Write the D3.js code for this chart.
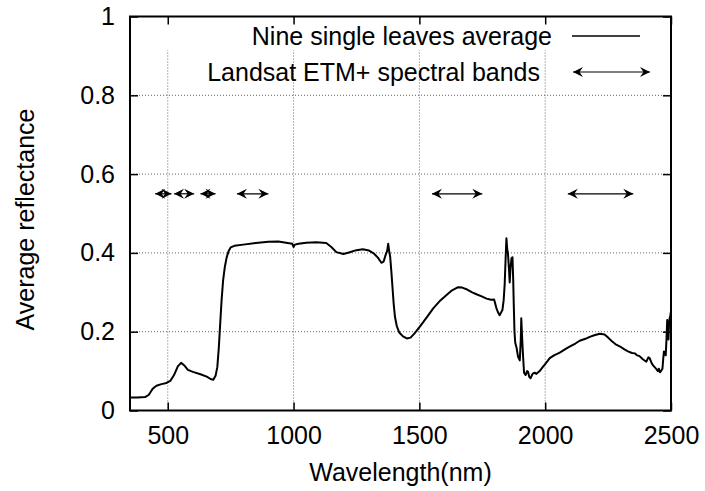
<!DOCTYPE html>
<html lang="en">
<head>
    <script src="https://d3js.org/d3.v7.min.js"></script>
</head>
<style>
    body { margin: 0; background: #fff; }
    text { font-family: "Liberation Sans", Arial, sans-serif; fill: #000; }
    .grid line { stroke: #666; stroke-width: 1; stroke-dasharray: 1,2; }
    .axis path { display: none; }
    .axis line { stroke: #000; stroke-width: 1.5; }
</style>
<body>
<script>
    const w = 705
    const h = 491

    // spectrum of the nine single leaves average (wavelength nm, reflectance)
    const wavelength = [350, 380, 410, 425, 440, 455, 475, 495, 510, 525, 540, 553, 565, 580, 600, 630, 655, 670, 681, 690,
        697, 703, 708, 714, 720, 727, 734, 742, 750, 765, 800, 850, 900, 940, 970, 995, 1000, 1005, 1020, 1050,
        1090, 1130, 1150, 1170, 1198, 1220, 1250, 1275, 1300, 1320, 1335, 1349, 1358, 1366, 1372, 1376, 1380, 1384, 1389, 1393,
        1398, 1403, 1410, 1420, 1435, 1450, 1465, 1480, 1502, 1530, 1555, 1580, 1608, 1630, 1654, 1670, 1690, 1710, 1727, 1750,
        1767, 1785, 1797, 1800, 1806, 1812, 1819, 1825, 1830, 1835, 1839, 1843, 1846, 1849, 1852, 1856, 1859, 1862, 1866, 1870,
        1873, 1875, 1878, 1881, 1886, 1892, 1899, 1903, 1905, 1908, 1911, 1916, 1922, 1928, 1932, 1937, 1942, 1950, 1958, 1965,
        1978, 1990, 2000, 2018, 2035, 2058, 2080, 2097, 2120, 2137, 2160, 2177, 2195, 2217, 2236, 2250, 2263, 2280, 2296, 2315,
        2329, 2345, 2356, 2365, 2375, 2388, 2395, 2402, 2410, 2415, 2422, 2428, 2435, 2442, 2448, 2452, 2456, 2462, 2466, 2469,
        2472, 2476, 2479, 2482, 2485, 2487, 2490, 2492, 2494, 2497, 2500]
    const reflectance = [0.033, 0.033, 0.034, 0.040, 0.055, 0.063, 0.067, 0.070, 0.075, 0.090, 0.112, 0.121, 0.115, 0.103, 0.098, 0.092, 0.086, 0.080, 0.078, 0.088,
        0.110, 0.160, 0.215, 0.280, 0.330, 0.365, 0.388, 0.405, 0.414, 0.418, 0.421, 0.425, 0.428, 0.429, 0.426, 0.423, 0.415, 0.421, 0.423, 0.426,
        0.427, 0.425, 0.415, 0.402, 0.397, 0.401, 0.407, 0.409, 0.406, 0.398, 0.388, 0.375, 0.378, 0.395, 0.405, 0.423, 0.405, 0.390, 0.350, 0.314,
        0.270, 0.238, 0.215, 0.198, 0.188, 0.183, 0.185, 0.195, 0.213, 0.237, 0.259, 0.277, 0.293, 0.305, 0.313, 0.312, 0.307, 0.300, 0.295, 0.289,
        0.284, 0.281, 0.282, 0.275, 0.260, 0.250, 0.242, 0.249, 0.255, 0.280, 0.320, 0.390, 0.437, 0.410, 0.399, 0.360, 0.325, 0.360, 0.386, 0.389,
        0.330, 0.272, 0.200, 0.172, 0.160, 0.137, 0.127, 0.180, 0.234, 0.190, 0.150, 0.096, 0.090, 0.100, 0.098, 0.085, 0.082, 0.093, 0.096, 0.093,
        0.100, 0.110, 0.118, 0.133, 0.140, 0.147, 0.156, 0.162, 0.170, 0.177, 0.182, 0.187, 0.191, 0.195, 0.193, 0.185, 0.177, 0.168, 0.163, 0.155,
        0.150, 0.146, 0.145, 0.140, 0.138, 0.130, 0.127, 0.124, 0.135, 0.133, 0.122, 0.115, 0.110, 0.105, 0.100, 0.106, 0.097, 0.102, 0.106, 0.130,
        0.150, 0.145, 0.140, 0.180, 0.230, 0.190, 0.180, 0.215, 0.232, 0.240, 0.252]

    // Landsat ETM+ bands (nm), drawn as arrows at reflectance 0.55
    const bandStart = [450, 525, 630, 775, 1550, 2090]
    const bandEnd = [515, 605, 690, 900, 1750, 2350]
    const bandLevel = 0.55

    const xTicks = [500, 1000, 1500, 2000, 2500]
    const yTicks = [0, 0.2, 0.4, 0.6, 0.8, 1]
    const yTickLabels = ["0", "0.2", "0.4", "0.6", "0.8", "1"]

    const pLeft = 130, pRight = 671, pTop = 16.5, pBottom = 410.5
    const fs = "25px"

    var svg = d3.select("body")
        .append("svg")
        .attr("width", w)
        .attr("height", h);

    svg.append("defs").selectAll("marker")
        .data(["head", "tail"])
        .enter()
        .append("marker")
        .attr("id", d => d)
        .attr("viewBox", "-11 -6 12 12")
        .attr("refX", 0)
        .attr("refY", 0)
        .attr("markerUnits", "userSpaceOnUse")
        .attr("markerWidth", 12)
        .attr("markerHeight", 12)
        .attr("orient", d => d == "head" ? "auto" : "auto-start-reverse")
        .append("path")
        .attr("d", "M0,0 L-10,-5 L-6.5,0 L-10,5 Z")
        .attr("fill", "#000");

    let x = d3.scaleLinear().domain([350, 2500]).range([pLeft, pRight])
    let y = d3.scaleLinear().domain([0, 1]).range([pBottom, pTop])

    // dotted grid
    const grid = svg.append("g").attr("class", "grid")
    grid.selectAll("line.v")
        .data(xTicks.slice(0, -1))
        .enter()
        .append("line")
        .attr("class", "v")
        .attr("x1", d => x(d)).attr("x2", d => x(d))
        .attr("y1", pBottom).attr("y2", y(0.915));
    grid.selectAll("line.h")
        .data(yTicks.slice(1, -1))
        .enter()
        .append("line")
        .attr("class", "h")
        .attr("x1", pLeft).attr("x2", pRight)
        .attr("y1", d => y(d)).attr("y2", d => y(d));

    // axes with inward ticks, mirrored on top and right
    svg.append("g").attr("class", "axis")
        .attr("transform", `translate(0,${pBottom})`)
        .call(d3.axisBottom(x).tickValues(xTicks).tickSize(-8).tickPadding(16).tickFormat(d3.format("d")))
        .selectAll("text").style("font-size", fs);
    svg.append("g").attr("class", "axis")
        .attr("transform", `translate(0,${pTop})`)
        .call(d3.axisTop(x).tickValues(xTicks).tickSize(-8).tickFormat(""));
    svg.append("g").attr("class", "axis")
        .attr("transform", `translate(${pLeft},0)`)
        .call(d3.axisLeft(y).tickValues(yTicks).tickSize(-8).tickPadding(15).tickFormat((d, i) => yTickLabels[i]))
        .selectAll("text").style("font-size", fs);
    svg.append("g").attr("class", "axis")
        .attr("transform", `translate(${pRight},0)`)
        .call(d3.axisRight(y).tickValues(yTicks).tickSize(-8).tickFormat(""));

    // the spectrum
    const line = d3.line()
        .x((d, i) => x(wavelength[i]))
        .y((d, i) => y(reflectance[i]))
    svg.append("path")
        .datum(wavelength)
        .attr("d", line)
        .attr("fill", "none")
        .attr("stroke", "#000")
        .attr("stroke-width", 2)
        .attr("stroke-linejoin", "round");

    // band arrows
    svg.selectAll("line.band")
        .data(bandStart)
        .enter()
        .append("line")
        .attr("class", "band")
        .attr("x1", d => x(d))
        .attr("x2", (d, i) => x(bandEnd[i]))
        .attr("y1", y(bandLevel)).attr("y2", y(bandLevel))
        .attr("stroke", "#000")
        .attr("stroke-width", 1.2)
        .attr("marker-start", "url(#tail)")
        .attr("marker-end", "url(#head)");

    // plot border
    svg.append("rect")
        .attr("x", pLeft).attr("y", pTop)
        .attr("width", pRight - pLeft).attr("height", pBottom - pTop)
        .attr("fill", "none")
        .attr("stroke", "#000")
        .attr("stroke-width", 2);

    // legend
    const legendText = ["Nine single leaves average", "Landsat ETM+ spectral bands"]
    svg.selectAll("text.key")
        .data(legendText)
        .enter()
        .append("text")
        .attr("class", "key")
        .attr("x", (d, i) => i == 0 ? 552 : 540)
        .attr("y", (d, i) => 45 + i * 36)
        .attr("text-anchor", "end")
        .style("font-size", fs)
        .text(d => d);
    svg.append("line")
        .attr("x1", 572).attr("x2", 640).attr("y1", 36).attr("y2", 36)
        .attr("stroke", "#000").attr("stroke-width", 1.5);
    svg.append("line")
        .attr("x1", 573).attr("x2", 650).attr("y1", 72).attr("y2", 72)
        .attr("stroke", "#000").attr("stroke-width", 1.2)
        .attr("marker-start", "url(#tail)")
        .attr("marker-end", "url(#head)");

    // axis titles
    svg.append("text")
        .attr("x", (pLeft + pRight) / 2)
        .attr("y", 481)
        .attr("text-anchor", "middle")
        .style("font-size", fs)
        .text("Wavelength(nm)");
    svg.append("text")
        .attr("transform", `translate(34,${(pTop + pBottom) / 2 + 6}) rotate(-90)`)
        .attr("text-anchor", "middle")
        .style("font-size", fs)
        .text("Average reflectance");
</script>
</body>
</html>
